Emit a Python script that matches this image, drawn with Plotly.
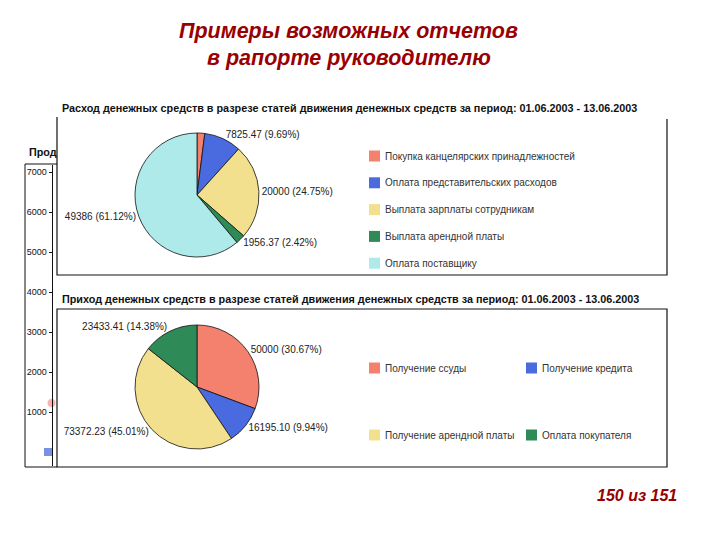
import plotly.graph_objects as go

# --- данные ---
OUT_LABELS = ["Покупка канцелярских принадлежностей", "Оплата представительских расходов",
              "Выплата зарплаты сотрудникам", "Выплата арендной платы", "Оплата поставщику"]
OUT_VALUES = [1630.00, 7825.47, 20000, 1956.37, 49386]
OUT_TEXT = ["", "7825.47", "20000", "1956.37", "49386"]

IN_LABELS = ["Получение ссуды", "Получение кредита", "Получение арендной платы", "Оплата покупателя"]
IN_VALUES = [50000, 16195.10, 73372.23, 23433.41]
IN_TEXT = ["50000", "16195.10", "73372.23", "23433.41"]

BG_TICKS = [1000, 2000, 3000, 4000, 5000, 6000, 7000]
BG_X = [51.5, 48]
BG_Y = [1225, 0]

OUT_COLORS = ["#F4806E", "#4A6BE0", "#F2E08E", "#2E8B57", "#AEEAEA"]
IN_COLORS = ["#F4806E", "#4A6BE0", "#F2E08E", "#2E8B57"]

# страница имеет отступ 8px, поэтому фигура чуть меньше окна
OFF = 8
W, H = 720 - OFF, 540 - OFF
RED = "#990000"
FONT = "Liberation Sans"


def px(x):
    return (x - OFF) / W


def py(y):
    return 1 - (y - OFF) / H


fig = go.Figure()

# фоновый график (частично закрыт)
fig.add_trace(go.Scatter(
    x=BG_X, y=BG_Y, mode="markers", showlegend=False, hoverinfo="skip",
    marker=dict(color=["rgba(240,120,110,0.8)", "#3F63D8"], size=[9, 9],
                symbol=["circle", "square"]),
    cliponaxis=False,
))

text_font = dict(family=FONT, size=10, color="#222")

fig.add_trace(go.Pie(
    labels=OUT_LABELS, values=OUT_VALUES, text=OUT_TEXT,
    texttemplate=[""] + ["%{text} (%{percent:.2%})"] * 4,
    textposition="outside", textfont=text_font,
    sort=False, direction="clockwise", rotation=0,
    marker=dict(colors=OUT_COLORS, line=dict(color="#111", width=0.8)),
    domain=dict(x=[px(135), px(259)], y=[py(257), py(133)]),
    showlegend=False, hoverinfo="label+value+percent",
))

fig.add_trace(go.Pie(
    labels=IN_LABELS, values=IN_VALUES, text=IN_TEXT,
    texttemplate="%{text} (%{percent:.2%})",
    textposition="outside", textfont=text_font,
    sort=False, direction="clockwise", rotation=0,
    marker=dict(colors=IN_COLORS, line=dict(color="#111", width=0.8)),
    domain=dict(x=[px(135), px(259)], y=[py(449), py(325)]),
    showlegend=False, hoverinfo="label+value+percent",
))

shapes = []
annotations = []

# рамки отчётов
line = dict(color="#111", width=1.2)
shapes.append(dict(type="path", xref="paper", yref="paper", line=line,
                   path=f"M {px(57)},{py(117)} L {px(57)},{py(275)} L {px(667)},{py(275)} L {px(667)},{py(119)}"))
shapes.append(dict(type="rect", xref="paper", yref="paper", line=line,
                   x0=px(57), x1=px(667), y0=py(467), y1=py(309)))
# рамка фонового графика
shapes.append(dict(type="path", xref="paper", yref="paper", line=dict(color="#111", width=1),
                   path=f"M {px(57)},{py(164)} L {px(25)},{py(164)} L {px(25)},{py(467)} L {px(57)},{py(467)}"))

# заголовки отчётов
annotations.append(dict(x=px(60), y=py(108), xref="paper", yref="paper", xanchor="left", yanchor="middle",
                        showarrow=False, font=dict(family=FONT, size=10.8, color="#111"),
                        text="<b>Расход денежных средств в разрезе статей движения денежных средств за период: 01.06.2003 - 13.06.2003</b>"))
annotations.append(dict(x=px(60), y=py(299), xref="paper", yref="paper", xanchor="left", yanchor="middle",
                        showarrow=False, font=dict(family=FONT, size=10.8, color="#111"),
                        text="<b>Приход денежных средств в разрезе статей движения денежных средств за период: 01.06.2003 - 13.06.2003</b>"))
annotations.append(dict(x=px(27), y=py(152), xref="paper", yref="paper", xanchor="left", yanchor="middle",
                        showarrow=False, font=dict(family=FONT, size=10.8, color="#111"), text="<b>Прод</b>"))

# легенда расхода
for i, (lab, col) in enumerate(zip(OUT_LABELS, OUT_COLORS)):
    yc = 156 + i * 26.8
    shapes.append(dict(type="rect", xref="paper", yref="paper", x0=px(369), x1=px(380),
                       y0=py(yc + 5.5), y1=py(yc - 5.5), fillcolor=col, line=dict(color=col, width=0)))
    annotations.append(dict(x=px(383), y=py(yc), xref="paper", yref="paper", xanchor="left", yanchor="middle",
                            showarrow=False, font=dict(family=FONT, size=10, color="#333"), text=lab))

# легенда прихода (2 x 2)
for i, (lab, col) in enumerate(zip(IN_LABELS, IN_COLORS)):
    xl = 369 + (i % 2) * 157
    yc = 368 + (i // 2) * 67
    shapes.append(dict(type="rect", xref="paper", yref="paper", x0=px(xl), x1=px(xl + 11),
                       y0=py(yc + 5.5), y1=py(yc - 5.5), fillcolor=col, line=dict(color=col, width=0)))
    annotations.append(dict(x=px(xl + 14), y=py(yc), xref="paper", yref="paper", xanchor="left", yanchor="middle",
                            showarrow=False, font=dict(family=FONT, size=10, color="#333"), text=lab))

# заголовок слайда и номер
annotations.append(dict(x=px(348), y=py(31), xref="paper", yref="paper", xanchor="center", yanchor="middle",
                        showarrow=False, font=dict(family=FONT, size=21.5, color=RED),
                        text="<b><i>Примеры возможных отчетов</i></b>"))
annotations.append(dict(x=px(349), y=py(58), xref="paper", yref="paper", xanchor="center", yanchor="middle",
                        showarrow=False, font=dict(family=FONT, size=21.5, color=RED),
                        text="<b><i>в рапорте руководителю</i></b>"))
annotations.append(dict(x=px(637), y=py(495), xref="paper", yref="paper", xanchor="center", yanchor="middle",
                        showarrow=False, font=dict(family=FONT, size=16, color=RED),
                        text="<b><i>150 из 151</i></b>"))

fig.update_layout(
    width=W, height=H, margin=dict(l=0, r=0, t=0, b=0),
    paper_bgcolor="white", plot_bgcolor="rgba(0,0,0,0)",
    shapes=shapes, annotations=annotations,
    xaxis=dict(domain=[px(40), px(60)], range=[40, 60], visible=False, fixedrange=True),
    yaxis=dict(domain=[py(466), py(165)], range=[-350, 7175], anchor="free", position=px(51.5),
               tickvals=BG_TICKS, ticks="outside", ticklen=3, tickcolor="#111",
               showline=True, linecolor="#111", linewidth=1, showgrid=False, zeroline=False,
               tickfont=dict(family=FONT, size=9, color="#111"), fixedrange=True),
)

fig.write_html("out.html")
